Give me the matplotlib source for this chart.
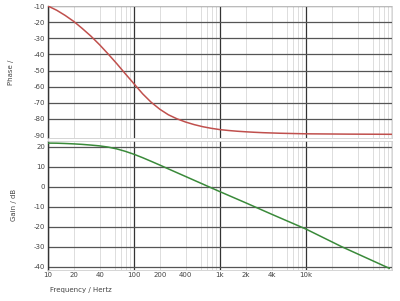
import matplotlib
matplotlib.use("Agg")
import matplotlib.pyplot as plt
import numpy as np

phase_freq = [10, 12.6, 15.8, 20, 25, 31.6, 39.8, 50, 63, 79, 100, 126, 158, 200, 251, 316,
              398, 501, 631, 794, 1000, 1259, 1585, 1995, 2512, 3162, 5012, 10000, 31623, 100000]
phase_deg = [-10, -12.6, -15.8, -19.6, -23.9, -28.7, -34.0, -39.7, -45.7, -51.9, -58.2, -64.4,
             -69.6, -74.0, -77.4, -79.9, -81.9, -83.5, -84.8, -85.8, -86.6, -87.15, -87.6,
             -87.95, -88.25, -88.5, -88.85, -89.2, -89.4, -89.5]

gain_freq = [10, 12.6, 15.8, 20, 25, 31.6, 39.8, 50, 63, 79, 100, 126, 158, 200, 251, 316,
             398, 501, 631, 794, 1000, 2000, 4000, 10000, 26000, 93000]
gain_db = [21.8, 21.75, 21.6, 21.4, 21.15, 20.8, 20.4, 19.8, 18.9, 17.7, 16.2, 14.5, 12.7,
           10.8, 8.9, 7.0, 5.1, 3.2, 1.3, -0.6, -2.5, -8.1, -13.8, -21.2, -30.0, -40.8]

x_ticks = [10, 20, 40, 100, 200, 400, 1000, 2000, 4000, 10000]
x_ticklabels = ["10", "20", "40", "100", "200", "400", "1k", "2k", "4k", "10k"]
phase_ticks = [-10, -20, -30, -40, -50, -60, -70, -80, -90]
gain_ticks = [20, 10, 0, -10, -20, -30, -40]

fig = plt.figure(figsize=(4.0, 3.01), dpi=100)
ax1 = fig.add_axes([0.12, 0.5415, 0.86, 0.4385])
ax2 = fig.add_axes([0.12, 0.104, 0.86, 0.4286])

minor_mult = [2, 4, 6, 7, 8, 9]
decades = [10, 100, 1000, 10000]

for ax in (ax1, ax2):
    ax.set_xscale("log")
    ax.set_xlim(10, 100000)
    for d in decades:
        for m in minor_mult:
            ax.axvline(d * m, color="#d8d8d8", lw=0.6, zorder=0)
    for d in decades + [100000]:
        ax.axvline(d, color="#333333", lw=0.9, zorder=1)
    ax.tick_params(axis="both", length=0, labelsize=5, colors="#444444", pad=2)
    ax.minorticks_off()
    for s in ("top", "right", "bottom"):
        ax.spines[s].set_color("#cfcfcf")
        ax.spines[s].set_linewidth(0.6)
    ax.spines["left"].set_color("#333333")
    ax.spines["left"].set_linewidth(1.0)

# top panel
ax1.set_ylim(-91.8, -10)
ax1.set_yticks(phase_ticks)
ax1.set_yticklabels([str(t) for t in phase_ticks])
for t in phase_ticks[:-1]:
    ax1.axhline(t, color="#555555", lw=0.9, zorder=1)
ax1.set_xticks([])
ax1.plot(phase_freq, phase_deg, color="#c0504d", lw=1.1, zorder=3)
ax1.set_ylabel("Phase /", fontsize=5, color="#444444", labelpad=14)

# bottom panel
ax2.set_ylim(-41.5, 23)
ax2.set_yticks(gain_ticks)
ax2.set_yticklabels([str(t) for t in gain_ticks])
for t in gain_ticks:
    ax2.axhline(t, color="#555555", lw=0.9, zorder=1)
ax2.set_xticks(x_ticks)
ax2.set_xticklabels(x_ticklabels)
ax2.plot(gain_freq, gain_db, color="#3a8a3a", lw=1.1, zorder=3)
ax2.set_ylabel("Gain / dB", fontsize=5, color="#444444", labelpad=12)

fig.text(0.125, 0.035, "Frequency / Hertz", fontsize=5, color="#444444", ha="left", va="center")

fig.savefig("out.png", dpi=100)
